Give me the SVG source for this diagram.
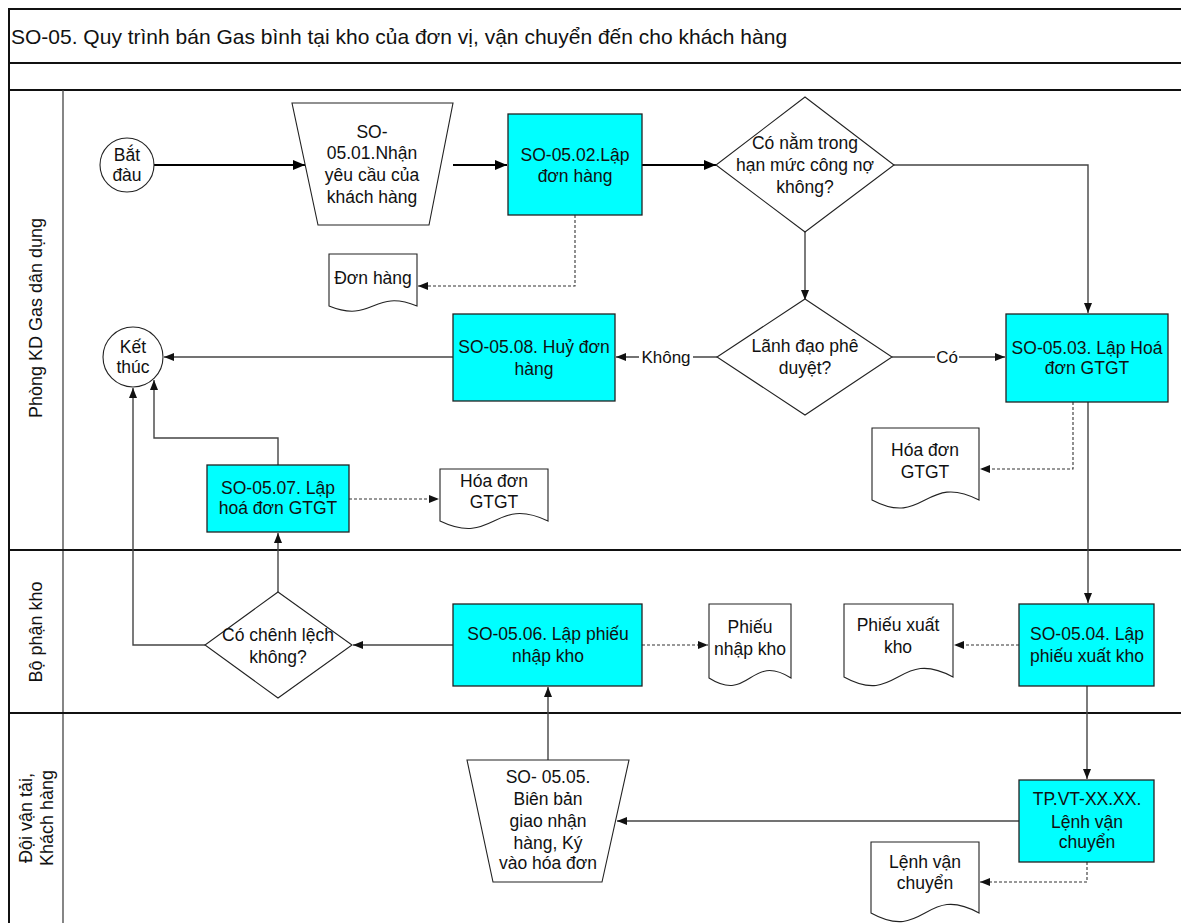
<svg xmlns="http://www.w3.org/2000/svg" width="1181" height="923" viewBox="0 0 1181 923">
<style>
text{font-family:"Liberation Sans",Arial,sans-serif;font-size:17.5px;fill:#111;text-anchor:middle}
.title{font-size:21px;text-anchor:start}
.lane{font-size:18px}
.lbl{font-size:17px}
.frame{fill:none;stroke:#111;stroke-width:2}
.sub{fill:none;stroke:#444;stroke-width:1.3}
.proc{fill:#00FFFF;stroke:#222;stroke-width:1.3}
.shape{fill:#fff;stroke:#222;stroke-width:1.1}
.thick{fill:none;stroke:#000;stroke-width:2.2}
.conn{fill:none;stroke:#444;stroke-width:1.4}
.dash{fill:none;stroke:#333;stroke-width:1.1;stroke-dasharray:3 2}
</style>
<defs>
<marker id="ahb" viewBox="0 0 12 10" refX="12" refY="5" markerWidth="12" markerHeight="10" markerUnits="userSpaceOnUse" orient="auto"><path d="M0,0 L12,5 L0,10 z" fill="#000"/></marker>
<marker id="ah" viewBox="0 0 10 8" refX="10" refY="4" markerWidth="10" markerHeight="8" markerUnits="userSpaceOnUse" orient="auto"><path d="M0,0 L10,4 L0,8 z" fill="#111"/></marker>
</defs>
<rect width="1181" height="923" fill="#fff"/>
<g id="frame">
<path class="frame" d="M9,923 V9 H1181"/>
<path class="frame" d="M9,63 H1181"/>
<path class="frame" d="M9,90 H1181"/>
<path class="sub" d="M63,90 V923"/>
<path class="frame" d="M9,550 H1181"/>
<path class="frame" d="M9,713 H1181"/>
<text class="title" x="11" y="44">SO-05. Quy trình bán Gas bình tại kho của đơn vị, vận chuyển đến cho khách hàng</text>
<text class="lane" transform="translate(36,318) rotate(-90)" y="6">Phòng KD Gas dân dụng</text>
<text class="lane" transform="translate(36,632) rotate(-90)" y="6">Bộ phận kho</text>
<text class="lane" transform="translate(36,818) rotate(-90)"><tspan x="0" y="-4">Đội vận tải,</tspan><tspan x="0" y="17">Khách hàng</tspan></text>
</g>
<g id="connectors">
<path class="thick" d="M154,165 H305" marker-end="url(#ahb)"/>
<path class="thick" d="M453,165 H507" marker-end="url(#ahb)"/>
<path class="thick" d="M642,165 H716" marker-end="url(#ahb)"/>
<path class="conn" d="M894,165 H1088 V313" marker-end="url(#ah)"/>
<path class="conn" d="M805,232 V300" marker-end="url(#ah)"/>
<path class="conn" d="M717,357 H616" marker-end="url(#ah)"/>
<path class="conn" d="M892,357 H1005" marker-end="url(#ah)"/>
<path class="conn" d="M453,357 H164" marker-end="url(#ah)"/>
<path class="conn" d="M1088,402 V603" marker-end="url(#ah)"/>
<path class="conn" d="M1087,686 V779" marker-end="url(#ah)"/>
<path class="conn" d="M1019,821 H617" marker-end="url(#ah)"/>
<path class="conn" d="M548,760 V687" marker-end="url(#ah)"/>
<path class="conn" d="M453,645 H353" marker-end="url(#ah)"/>
<path class="conn" d="M278,592 V533" marker-end="url(#ah)"/>
<path class="conn" d="M278,465 V438 H154 V380" marker-end="url(#ah)"/>
<path class="conn" d="M205,645 H133 V388" marker-end="url(#ah)"/>
<path class="dash" d="M575,215 V286 H418" marker-end="url(#ah)"/>
<path class="dash" d="M1073,402 V469 H980" marker-end="url(#ah)"/>
<path class="dash" d="M349,499 H439" marker-end="url(#ah)"/>
<path class="dash" d="M642,645 H708" marker-end="url(#ah)"/>
<path class="dash" d="M1019,645 H954" marker-end="url(#ah)"/>
<path class="dash" d="M1087,862 V882 H980" marker-end="url(#ah)"/>
<rect x="639" y="347" width="54" height="20" fill="#fff"/>
<text class="lbl" x="666" y="363">Không</text>
<rect x="935" y="347" width="24" height="20" fill="#fff"/>
<text class="lbl" x="947" y="363">Có</text>
</g>
<g id="start">
<circle class="shape" cx="127" cy="165" r="27"/>
<text x="127" y="161">Bắt</text>
<text x="127" y="181">đàu</text>
</g>
<g id="so0501">
<path class="shape" d="M292,103 H453 L429,225 H318 Z"/>
<text x="372" y="138">SO-</text>
<text x="372" y="159">05.01.Nhận</text>
<text x="372" y="181">yêu cầu của</text>
<text x="372" y="203">khách hàng</text>
</g>
<g id="so0502">
<rect class="proc" x="508" y="114" width="134" height="101"/>
<text x="575" y="161">SO-05.02.Lập</text>
<text x="575" y="182">đơn hàng</text>
</g>
<g id="dec1">
<path class="shape" d="M805,97 L894,165 L805,232 L716,165 Z"/>
<text x="805" y="149">Có nằm trong</text>
<text x="805" y="171">hạn mức công nợ</text>
<text x="805" y="193">không?</text>
</g>
<g id="doc-donhang">
<path class="shape" d="M329,254 H417 V306 C373,288 373,324 329,306 Z"/>
<text x="373" y="284">Đơn hàng</text>
</g>
<g id="dec2">
<path class="shape" d="M805,299 L892,357 L805,415 L717,357 Z"/>
<text x="805" y="352">Lãnh đạo phê</text>
<text x="805" y="374">duyệt?</text>
</g>
<g id="so0508">
<rect class="proc" x="453" y="314" width="162" height="87"/>
<text x="534" y="353">SO-05.08. Huỷ đơn</text>
<text x="534" y="375">hàng</text>
</g>
<g id="end">
<circle class="shape" cx="133" cy="357" r="30"/>
<text x="133" y="353">Kết</text>
<text x="133" y="373">thúc</text>
</g>
<g id="so0503">
<rect class="proc" x="1006" y="314" width="162" height="88"/>
<text x="1087" y="354">SO-05.03. Lập Hoá</text>
<text x="1087" y="374">đơn GTGT</text>
</g>
<g id="doc-hoadon1">
<path class="shape" d="M872,428 H979 V500 C925,472 925,528 872,500 Z"/>
<text x="925" y="456">Hóa đơn</text>
<text x="925" y="478">GTGT</text>
</g>
<g id="so0507">
<rect class="proc" x="207" y="465" width="142" height="67"/>
<text x="278" y="494">SO-05.07. Lập</text>
<text x="278" y="514">hoá đơn GTGT</text>
</g>
<g id="doc-hoadon2">
<path class="shape" d="M440,469 H548 V521 C494,495 494,547 440,521 Z"/>
<text x="494" y="487">Hóa đơn</text>
<text x="494" y="508">GTGT</text>
</g>
<g id="dec3">
<path class="shape" d="M278,592 L352,645 L278,698 L205,645 Z"/>
<text x="278" y="641">Có chênh lệch</text>
<text x="278" y="663">không?</text>
</g>
<g id="so0506">
<rect class="proc" x="453" y="604" width="189" height="82"/>
<text x="548" y="640">SO-05.06. Lập phiếu</text>
<text x="548" y="662">nhập kho</text>
</g>
<g id="doc-phieunhap">
<path class="shape" d="M709,604 H791 V678 C750,652 750,704 709,678 Z"/>
<text x="750" y="633">Phiếu</text>
<text x="750" y="655">nhập kho</text>
</g>
<g id="doc-phieuxuat">
<path class="shape" d="M844,604 H953 V677 C898,647 898,707 844,677 Z"/>
<text x="898" y="631">Phiếu xuất</text>
<text x="898" y="653">kho</text>
</g>
<g id="so0504">
<rect class="proc" x="1019" y="604" width="135" height="82"/>
<text x="1087" y="640">SO-05.04. Lập</text>
<text x="1087" y="662">phiếu xuất kho</text>
</g>
<g id="so0505">
<path class="shape" d="M467,760 H629 L602,882 H493 Z"/>
<text x="548" y="783">SO- 05.05.</text>
<text x="548" y="805">Biên bản</text>
<text x="548" y="827">giao nhận</text>
<text x="548" y="849">hàng, Ký</text>
<text x="548" y="869">vào hóa đơn</text>
</g>
<g id="tpvt">
<rect class="proc" x="1019" y="780" width="135" height="82"/>
<text x="1087" y="805">TP.VT-XX.XX.</text>
<text x="1087" y="828">Lệnh vận</text>
<text x="1087" y="848">chuyển</text>
</g>
<g id="doc-lenhvc">
<path class="shape" d="M871,842 H979 V913 C925,883 925,943 871,913 Z"/>
<text x="925" y="868">Lệnh vận</text>
<text x="925" y="889">chuyển</text>
</g>
</svg>
